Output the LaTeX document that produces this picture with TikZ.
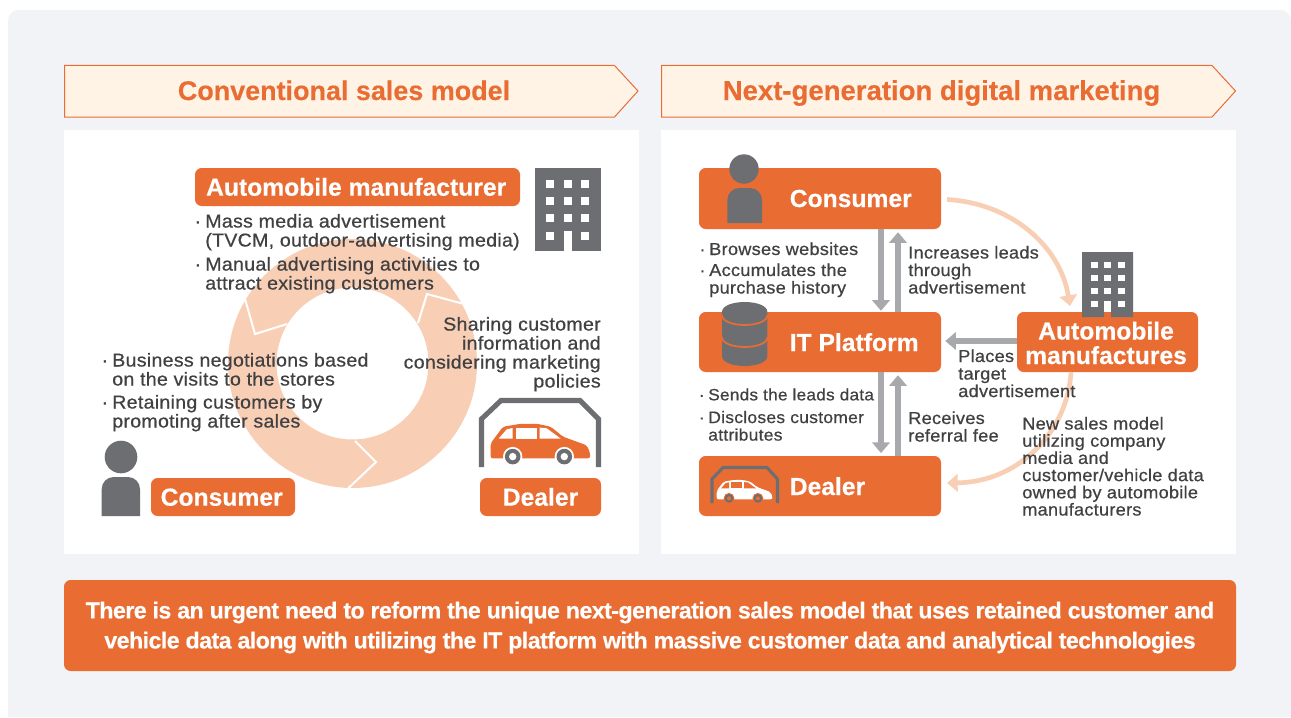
\documentclass[tikz,border=0pt]{standalone}
\usepackage{fontspec}
\setmainfont{Liberation Sans}
\newfontfamily\bodyface[FakeBold=0.6,FakeStretch=1.05,LetterSpace=1.5]{Liberation Sans}
\newfontfamily\boldface[FakeBold=0.3]{Liberation Sans Bold}
\newfontfamily\bannerface[FakeBold=0.3,LetterSpace=-2.4]{Liberation Sans Bold}
\usetikzlibrary{arrows.meta}
\definecolor{orng}{HTML}{E96D33}
\definecolor{txt}{HTML}{414042}
\definecolor{icon}{HTML}{6D6E71}
\definecolor{agray}{HTML}{A7A9AC}
\definecolor{peach}{HTML}{F8CFB5}
\definecolor{bgc}{HTML}{F1F3F6}
\definecolor{headfill}{HTML}{FFF3E6}
\tikzset{
  obox/.style={fill=orng,rounded corners=5pt,inner sep=0pt,text=white,align=center,text height=13pt,text depth=0pt,font=\boldface\fontsize{18.5}{18}\selectfont},
  otext/.style={text=white,inner sep=0pt,anchor=base west,font=\boldface\fontsize{18.5}{18}\selectfont},
  leftp/.style={anchor=north west,inner sep=0pt,align=left,text=txt,yshift=10.7pt,font=\bodyface\fontsize{14}{14.25}\selectfont},
  rightp/.style={leftp,anchor=north east,align=right},
  smallp/.style={anchor=north west,inner sep=0pt,align=left,text=txt,yshift=9.6pt,font=\bodyface\fontsize{12.97}{13.15}\selectfont},
  smallerp/.style={smallp,font=\bodyface\fontsize{12.5}{13.15}\selectfont},
  leastp/.style={smallp,font=\bodyface\fontsize{12.3}{13.15}\selectfont},
  tightp/.style={smallp,font=\bodyface\fontsize{12.97}{12.9}\selectfont},
  headtext/.style={text=orng,anchor=base,font=\boldface\fontsize{20.2}{22}\selectfont,inner sep=0pt},
  garrow/.style={draw=agray,line width=4.2pt,-{Triangle[width=13pt,length=8pt]}},
  parrow/.style={draw=peach,line width=3.5pt,-{Triangle[width=13pt,length=8pt]}},
}
\newcommand{\bul}{\makebox[0pt][r]{·\hspace{0.22em}}}
% shift x, shift y, scale, body colour, window colour, wheel edge
\newcommand{\carshape}[6]{%
  \begin{scope}[shift={(#1,#2)},scale=#3]
    \fill[#4,rounded corners=1.5pt] (0,0) -- (0,-15) -- (12.3,-31.6) -- (30,-34.5) -- (46.3,-34.5) -- (60,-31.6) -- (72.3,-21.6) -- (96,-13) -- (99.3,-6) -- (99.3,0) -- cycle;
    \fill[#5] (8,-19.7) -- (16,-29) -- (22,-30.3) -- (22,-19.7) -- cycle;
    \fill[#5] (25,-30.7) rectangle (46,-19.7);
    \fill[#5] (49,-30.7) -- (56,-30) -- (70,-19.7) -- (49,-19.7) -- cycle;
    \foreach \cx in {22,73.6}{
      \fill[#6] (\cx,-1.7) circle[radius=9.7];
      \fill[icon] (\cx,-1.7) circle[radius=7.8];
      \fill[#6] (\cx,-1.7) circle[radius=3.7];
    }
  \end{scope}}
\begin{document}
\begin{tikzpicture}[x=0.75pt,y=-0.75pt]
\useasboundingbox (0,0) rectangle (1291,717);
\fill[white] (0,0) rectangle (1291,717);
\fill[bgc] (8,717) [rounded corners=8pt] -- (8,10) -- (1291,10) [sharp corners] -- (1291,717) -- cycle;
% panels
\fill[white] (64,130) rectangle (639,554);
\fill[white] (661,130) rectangle (1236,554);
% headers
\draw[orng,fill=headfill,line width=0.75pt] (64.5,65.5) -- (614.5,65.5) -- (638,91) -- (614.5,117) -- (64.5,117) -- cycle;
\draw[orng,fill=headfill,line width=0.75pt] (661.5,65.5) -- (1212,65.5) -- (1235.5,91) -- (1212,117) -- (661.5,117) -- cycle;
\node[headtext] (headL) at (344,100) {Conventional sales model};
\node[headtext,font=\boldface\fontsize{20.65}{22}\selectfont] (headR) at (941.5,100) {Next-generation digital marketing};
% ring
\fill[peach,even odd rule] (352.5,363.5) circle[radius=124.5] (352.5,363.5) circle[radius=76];
\draw[white,line width=1.5pt] (245,299) -- (255,334) -- (287,324);
\draw[white,line width=1.5pt] (462,303.5) -- (427,294) -- (418,323);
\draw[white,line width=1.5pt] (348,488.5) -- (376,462) -- (355,441);
% left panel boxes
\node[obox,minimum width=243.75pt,minimum height=28.5pt] (mfgL) at (357.5,187) {Automobile manufacturer\hspace{2pt}};
\node[obox,minimum width=108pt,minimum height=28.5pt] (consL) at (223,497) {Consumer\hspace{2pt}};
\node[obox,minimum width=90.75pt,minimum height=28.5pt] (dealL) at (540.5,497) {Dealer};
% building left
\fill[icon] (535,168) rectangle (601,251);
\foreach \wy in {184,201,218,236}{\foreach \wx in {550,568,585}{
  \fill[white] (\wx-4.4,\wy-4.4) rectangle (\wx+4.4,\wy+4.4);}}
\fill[white] (563.5,231) rectangle (572,251);
% person left
\fill[icon] (121,457) circle[radius=16.3];
\fill[icon] (101.7,516) [rounded corners=9pt] -- (101.7,477) -- (140,477) [sharp corners] -- (140,516) -- cycle;
% garage left
\draw[icon,line width=3.8pt] (481.5,467) -- (481.5,419) -- (501,400.5) -- (580,400.5) -- (598.5,419) -- (598.5,467);
\carshape{490.7}{458.3}{1}{orng}{white}{white}
% left texts
\node[leftp] (t1) at (205,228) {\bul Mass media advertisement\\(TVCM, outdoor-advertising media)};
\node[leftp] (t2) at (205,271) {\bul Manual advertising activities to\\attract existing customers};
\node[leftp] (t3) at (112,367) {\bul Business negotiations based\\on the visits to the stores};
\node[leftp] (t4) at (112,409) {\bul Retaining customers by\\promoting after sales};
\node[rightp] (t5) at (601,331) {Sharing customer\\information and\\considering marketing\\policies};
% right panel boxes
\node[obox,minimum width=181.5pt,minimum height=45.75pt] (consR) at (820,198.5) {};
\node[obox,minimum width=181.5pt,minimum height=45pt] (itR) at (820,342) {};
\node[obox,minimum width=181.5pt,minimum height=45pt] (dealR) at (820,486) {};
\node[otext] (consRt) at (789.5,207) {Consumer};
\node[otext] (itRt) at (789.5,351) {IT Platform};
\node[otext] (dealRt) at (789.5,495) {Dealer};
% connector columns
\coordinate (dn) at (881,0);
\coordinate (up) at (898,0);
\coordinate (tipTop) at (1070,306);
\coordinate (tipBot) at (947,483);
\coordinate (startTop) at (947,199.5);
% curved arrows (below the manufacturer box)
\draw[parrow] (startTop) .. controls (1010,203) and (1060,245) .. (tipTop);
\node[obox,minimum width=135.75pt,minimum height=45pt] (mfgR) at (1107.5,342) {};
\draw[parrow] (1071,372) .. controls (1068,430) and (1020,482) .. (tipBot);
\node[otext,anchor=base,align=center] (mfgRt1) at (1106,339.5) {Automobile};
\node[otext,anchor=base,align=center] (mfgRt2) at (1106,364) {manufactures};
% gray arrows
\draw[garrow] (dn |- consR.south) -- ([yshift=0.7pt]dn |- itR.north);
\draw[garrow] (up |- itR.north) -- ([yshift=-2.2pt]up |- consR.south);
\draw[garrow] (dn |- itR.south) -- ([yshift=2pt]dn |- dealR.north);
\draw[garrow] (up |- dealR.north) -- ([yshift=-2.2pt]up |- itR.south);
\draw[garrow] (mfgR.west |- 0,341) -- ([xshift=3pt]itR.east |- 0,341);
% person right
\fill[icon] (744,169) circle[radius=14.7];
\fill[icon] (727.3,223) [rounded corners=9pt] -- (727.3,188) -- (762,188) [sharp corners] -- (762,223) -- cycle;
% database
\fill[icon] (722,312) .. controls (722,298.7) and (767.4,298.7) .. (767.4,312) -- (767.4,356) .. controls (767.4,369.3) and (722,369.3) .. (722,356) -- cycle;
\draw[orng,line width=1.3pt] (722,315) .. controls (722,328.3) and (767.4,328.3) .. (767.4,315);
\draw[orng,line width=1.3pt] (722,337) .. controls (722,350.3) and (767.4,350.3) .. (767.4,337);
% building right
\fill[icon] (1082,252) -- (1133,252) -- (1133,317) -- (1111,317) -- (1111,302) -- (1104,302) -- (1104,317) -- (1082,317) -- cycle;
\foreach \wy in {265,278,291,304}{\foreach \wx in {1094,1107,1121}{
  \fill[white] (\wx-3.5,\wy-3.3) rectangle (\wx+3.5,\wy+3.3);}}
\fill[white] (1103.5,302) rectangle (1111,312);
% garage small
\draw[icon,line width=2.3pt] (712,503) -- (712,479) -- (723,467.5) -- (767,467.5) -- (777.5,479) -- (777.5,503);
\carshape{716.7}{499.3}{0.56}{white}{orng}{orng}
% right texts
\node[smallp] (r1) at (709,255) {\bul Browses websites};
\node[smallp] (r2) at (709,276) {\bul Accumulates the\\purchase history};
\node[leastp] (r3) at (708,401) {\bul Sends the leads data};
\node[smallerp] (r4) at (708,423.5) {\bul Discloses customer\\attributes};
\node[smallp] (r5) at (908,258.5) {Increases leads\\through\\advertisement};
\node[smallp] (r6) at (958,362) {Places\\target\\advertisement};
\node[smallp] (r7) at (908,424) {Receives\\referral fee};
\node[tightp] (r8) at (1022,429.5) {New sales model\\utilizing company\\media and\\customer/vehicle data\\owned by automobile\\manufacturers};
% banner
\fill[orng,rounded corners=5pt] (64,580) rectangle (1236,671);
\node[text=white,inner sep=0pt,align=center,font=\bannerface\fontsize{17.4}{22.5}\selectfont] (banner) at (650,627.5) {There is an urgent need to reform the unique next-generation sales model that uses retained customer and\\vehicle data along with utilizing the IT platform with massive customer data and analytical technologies};
\end{tikzpicture}
\end{document}
